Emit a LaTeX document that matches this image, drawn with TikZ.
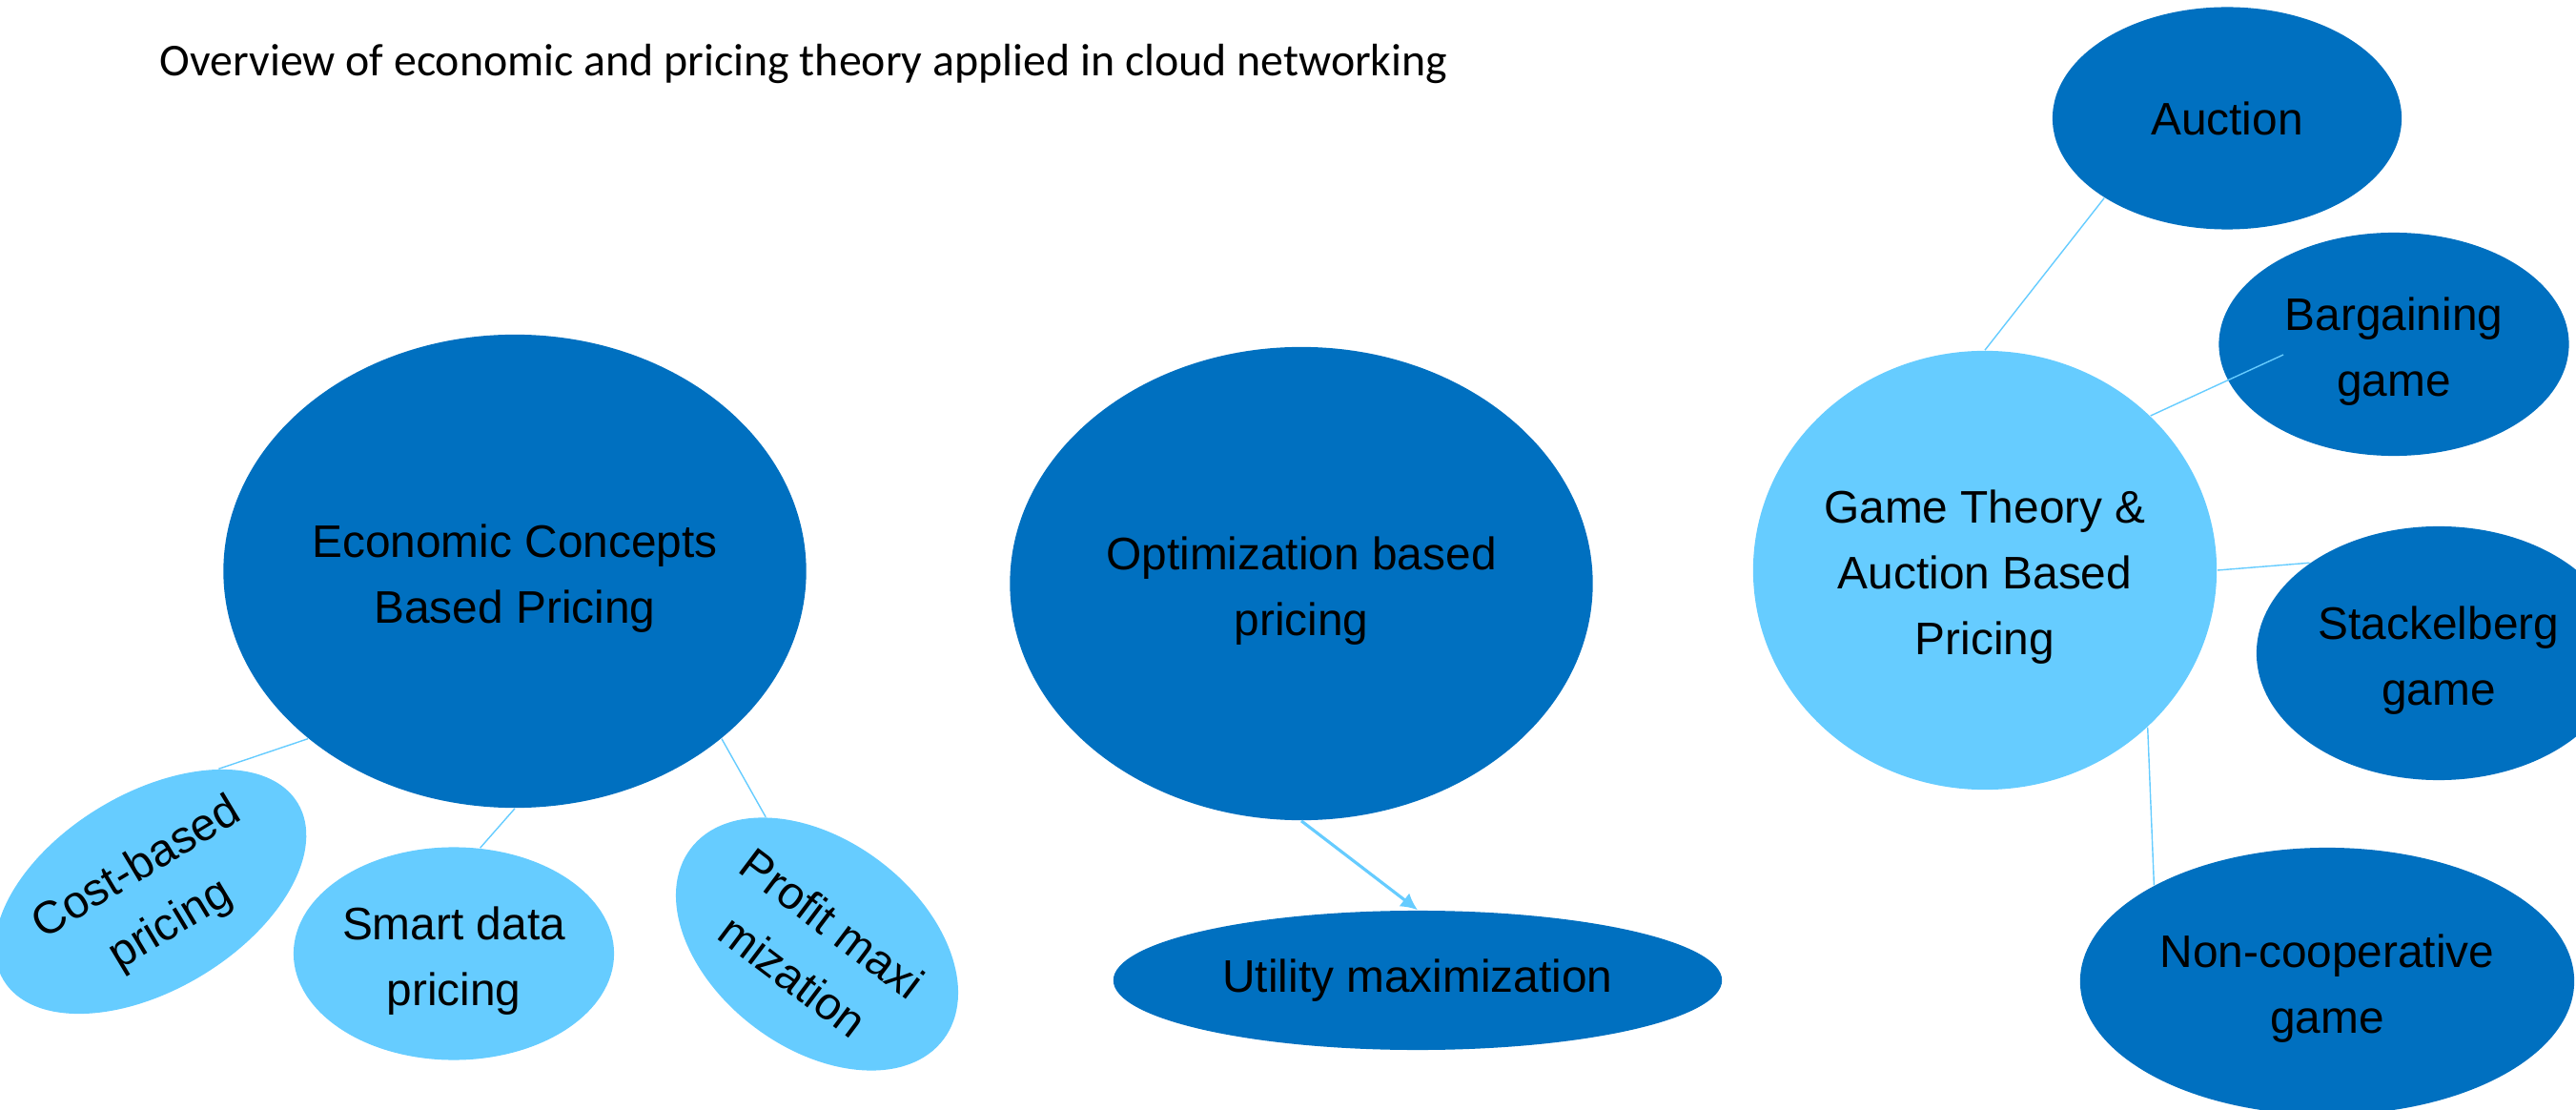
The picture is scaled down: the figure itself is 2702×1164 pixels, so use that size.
\documentclass[tikz,border=0pt]{standalone}
\usepackage{fontspec}
\setmainfont{Liberation Sans}
\newfontfamily\titlefont{Carlito}
\usetikzlibrary{shapes.geometric,arrows.meta}
\definecolor{deepblue}{HTML}{0070C0}
\definecolor{skyblue}{HTML}{66CCFF}
\newcommand{\lift}{\rule{0pt}{0.49cm}}

\begin{document}
\begin{tikzpicture}[x=0.01cm,y=-0.01cm]
    \tikzstyle{bubble} = [ellipse, fill=deepblue, inner sep=0pt, align=center, font=\fontsize{13.6}{19.6}\selectfont];
    \tikzstyle{pale} = [bubble, fill=skyblue]
    \tikzstyle{link} = [skyblue, line width=0.4pt];
    \tikzstyle{marrow} = [skyblue, line width=0.9pt, -{Latex[length=5pt,width=5pt]}];

    \useasboundingbox (0,0) rectangle (2702,1164);

    \node[anchor=base west, inner sep=0pt, font=\titlefont\fontsize{13.6}{16}\selectfont] (title) at (167,80)
        {Overview of economic and pricing theory applied in cloud networking};

    % main topics
    \node[bubble, minimum width=6.11cm, minimum height=4.96cm] (econ) at (540,599) {\lift Economic Concepts\\Based Pricing};
    \node[bubble, minimum width=6.11cm, minimum height=4.96cm] (opt) at (1365,612) {\lift Optimization based\\pricing};
    \node[pale, minimum width=4.86cm, minimum height=4.60cm] (game) at (2082,598) {\lift Game Theory \&\\Auction Based\\Pricing};

    % economic concepts
    \node[pale, rotate=31, minimum width=3.60cm, minimum height=2.06cm] (cost) at (158,935) {\lift Cost-based\\pricing};
    \node[pale, minimum width=3.36cm, minimum height=2.23cm] (smart) at (476,1000) {\lift Smart data\\pricing};
    \node[pale, rotate=-37, minimum width=3.32cm, minimum height=2.18cm] (profit) at (857,990) {\lift Profit maxi\\mization};

    % optimization
    \node[bubble, minimum width=6.38cm, minimum height=1.46cm] (util) at (1487,1028) {Utility maximization};

    % game theory
    \node[bubble, minimum width=3.66cm, minimum height=2.33cm] (auction) at (2336,124) {Auction};
    \node[bubble, minimum width=3.67cm, minimum height=2.34cm] (barg) at (2511,361) {\lift Bargaining\\game};
    \node[bubble, minimum width=3.82cm, minimum height=2.66cm] (stack) at (2558,685) {\lift Stackelberg\\game};
    \node[bubble, minimum width=5.18cm, minimum height=2.80cm] (noncoop) at (2441,1029) {\lift Non-cooperative\\game};

    \coordinate (bargin) at (2395,372);

    \foreach \a/\b in {econ.219/cost.30, econ.south/smart.76, econ.-39/profit.149,
                       game.north/auction.213, game.43/bargin, game.east/stack.145, game.-44/noncoop.151}
        \draw[link] (\a) -- (\b);

    \draw[marrow] (opt.south) -- (util.north);

\end{tikzpicture}
\end{document}
